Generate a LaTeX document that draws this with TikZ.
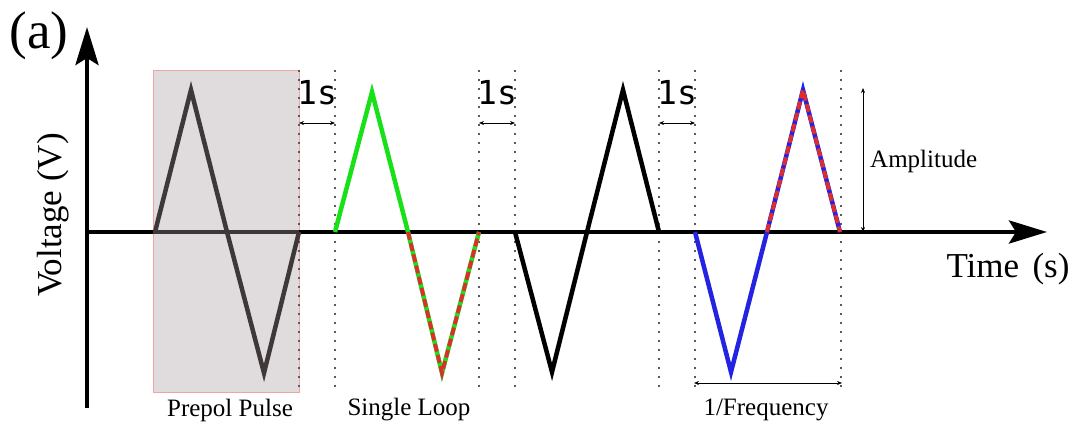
\documentclass[tikz,border=0pt]{standalone}
\usepackage{fontspec}
\setmainfont{Liberation Serif}
\newfontfamily\secfont{DejaVu Sans Mono}
\usepackage{tikz}
\usetikzlibrary{arrows.meta}
\definecolor{loopgreen}{RGB}{25,225,25}
\definecolor{loopblue}{RGB}{35,35,225}
\definecolor{loopred}{RGB}{222,45,45}
\definecolor{prepolgray}{RGB}{62,56,57}
\definecolor{prepolfill}{RGB}{224,219,220}
\definecolor{prepoledge}{RGB}{240,165,165}

\begin{document}
\begin{tikzpicture}[x=1pt, y=-1pt,
axis/.style={line width=4.5pt, -{Stealth[length=38pt,width=23pt,inset=7pt]}},
wave/.style={line width=4.5pt, line join=miter},
mixed/.style={line width=3.8pt, loopred, dash pattern=on 8pt off 3.5pt},
guide/.style={line width=1.8pt, black!65, dash pattern=on 2.5pt off 6.5pt},
span/.style={line width=0.7pt, {Stealth[length=5pt,width=4pt]}-{Stealth[length=5pt,width=4pt]}},
lab/.style={font=\fontsize{25}{28}\selectfont, inner sep=0pt, anchor=base},
sec/.style={font=\secfont\fontsize{33}{36}\selectfont, inner sep=0pt, anchor=base}]
\useasboundingbox (0,0) rectangle (1074,427);
% prepol window
\node[draw=prepoledge, fill=prepolfill, line width=0.8pt, minimum width=146pt, minimum height=322pt, inner sep=0pt] (prepol) at (226,231) {};
% guides between loops
\draw[guide] (299,70) -- (299,387); \draw[guide] (335,70) -- (335,387); \draw[guide] (479,70) -- (479,387); \draw[guide] (515,70) -- (515,387);
\draw[guide] (659,70) -- (659,387); \draw[guide] (695,70) -- (695,387); \draw[guide] (841,70) -- (841,387);
% axes
\coordinate (O) at (87,232); \coordinate (xend) at (1047,232); \coordinate (ybot) at (87,408); \coordinate (ytop) at (87,27);
\draw[axis] (ybot) -- (ytop); \draw[axis] (O) -- (xend);
\draw[line width=4.5pt, prepolgray] (prepol.west |- O) -- (prepol.east |- O);
% waveforms
\draw[wave, prepolgray] (155,232) -- (191,90) -- (227,232) -- (264,373) -- (299,232);
\draw[wave, loopgreen] (335,232) -- (372,92) -- (408,232) -- (442,373) -- (479,232);
\draw[mixed] (408,232) -- (442,373) -- (479,232);
\draw[wave, black] (515,232) -- (552,372) -- (587,232) -- (623,90) -- (659,232);
\draw[wave, loopblue] (695,232) -- (731,372) -- (767,232) -- (803,90) -- (840,232);
\draw[mixed] (767,232) -- (803,90) -- (840,232);
% 1 s gaps
\coordinate (g1l) at (299,123); \coordinate (g1r) at (335,123); \coordinate (g2l) at (479,123); \coordinate (g2r) at (515,123); \coordinate (g3l) at (659,123); \coordinate (g3r) at (695,123);
\draw[span] (g1l) -- (g1r); \draw[span] (g2l) -- (g2r); \draw[span] (g3l) -- (g3r);
\node[sec] (gap1) at (317,105) {1s}; \node[sec] (gap2) at (497,105) {1s}; \node[sec] (gap3) at (677,105) {1s};
% amplitude and period
\coordinate (amptop) at (863,88); \coordinate (ampbot) at (863,232); \draw[span] (amptop) -- (ampbot);
\node[lab, anchor=base west] (amp) at (870,168) {Amplitude};
\coordinate (perl) at (694,383); \coordinate (perr) at (842,383); \draw[span] (perl) -- (perr);
\node[lab] (freq) at (766,416) {1/Frequency};
\node[lab] (pplab) at (230,417) {Prepol Pulse}; \node[lab] (looplab) at (409,416) {Single Loop};
% axis labels
\node[font=\fontsize{53}{56}\selectfont, inner sep=0pt, anchor=base] (tag) at (39,49) {(a)};
\node[font=\fontsize{35}{40}\selectfont, inner sep=0pt, anchor=base] (xlab) at (1008,278) {Time\hspace{0.38em}(s)};
\node[font=\fontsize{35}{40}\selectfont, inner sep=0pt, anchor=base, rotate=90] (ylab) at (61,215) {Voltage (V)};
\end{tikzpicture}
\end{document}
